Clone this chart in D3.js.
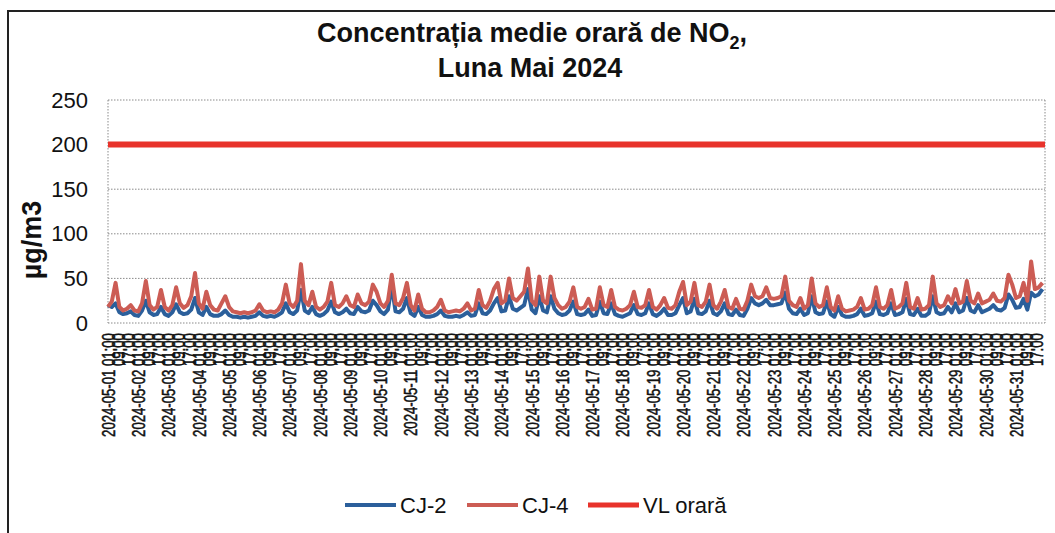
<!DOCTYPE html>
<html>
<head>
<meta charset="utf-8">
<script src="https://cdn.jsdelivr.net/npm/d3@7"></script>
<style>
  body { margin: 0; background: #fff; }
  text { font-family: "Liberation Sans", Arial, sans-serif; fill: #111; }
</style>
</head>
<body>
<div id="chart"></div>
<script>
// readings every 3 hours (01,04,07,10,13,16,19,22) for each day of May 2024
const cj4Values = [
  18, 24, 45, 18, 14, 16, 20, 14,
  13, 22, 47, 20, 15, 18, 37, 18,
  14, 20, 40, 22, 17, 20, 30, 56,
  22, 16, 35, 20, 15, 14, 22, 30,
  18, 13, 12, 11, 12, 11, 12, 14,
  21, 14, 12, 13, 12, 15, 22, 43,
  22, 18, 25, 66, 25, 20, 35, 18,
  15, 18, 24, 45, 20, 18, 22, 30,
  20, 18, 32, 22, 20, 24, 43, 35,
  22, 18, 25, 54, 22, 20, 28, 45,
  20, 14, 32, 16, 12, 12, 14, 18,
  26, 14, 12, 13, 14, 13, 16, 22,
  14, 16, 37, 20, 17, 25, 38, 45,
  22, 25, 50, 28, 25, 30, 35, 61,
  25, 20, 52, 25, 22, 52, 28, 20,
  16, 18, 24, 40, 18, 16, 18, 27,
  15, 16, 40, 20, 18, 37, 18, 15,
  14, 16, 20, 35, 18, 17, 20, 37,
  18, 15, 20, 28, 17, 16, 20, 35,
  46, 20, 24, 45, 20, 18, 24, 43,
  20, 16, 24, 37, 18, 16, 27, 16,
  15, 25, 43, 30, 28, 30, 40, 28,
  27, 28, 30, 52, 25, 20, 18, 28,
  16, 20, 50, 22, 18, 20, 40, 18,
  14, 30, 16, 13, 14, 15, 18, 28,
  15, 16, 20, 40, 18, 16, 20, 37,
  16, 18, 22, 45, 18, 16, 28, 15,
  16, 20, 52, 22, 18, 20, 30, 22,
  38, 22, 24, 47, 25, 22, 33, 22,
  24, 26, 33, 25, 24, 28, 54, 43,
  28, 30, 45, 25, 69, 38, 40, 45
];

const cj2Values = [
  20, 18, 22, 12, 10, 11, 13, 9,
  8, 14, 25, 12, 9, 10, 18, 10,
  8, 12, 21, 12, 10, 11, 15, 28,
  12, 9, 18, 10, 8, 8, 10, 14,
  9, 7, 7, 6, 7, 6, 7, 8,
  12, 8, 7, 8, 7, 9, 12, 22,
  12, 10, 14, 37, 14, 11, 18, 10,
  8, 10, 14, 24, 12, 10, 12, 16,
  11, 10, 18, 13, 12, 14, 25, 20,
  13, 10, 15, 42, 13, 12, 16, 28,
  11, 8, 18, 9, 7, 7, 8, 10,
  14, 8, 7, 7, 8, 7, 9, 12,
  8, 9, 22, 11, 10, 14, 22, 28,
  13, 14, 30, 16, 14, 17, 20, 38,
  15, 11, 30, 14, 12, 30, 16, 11,
  9, 10, 14, 24, 10, 9, 10, 15,
  8, 9, 24, 11, 10, 22, 10, 8,
  7, 9, 11, 20, 10, 9, 11, 22,
  10, 8, 11, 16, 9, 9, 11, 20,
  28, 11, 13, 27, 11, 10, 13, 25,
  11, 9, 13, 22, 10, 9, 15, 9,
  8, 16, 28, 22, 20, 22, 26, 20,
  20, 21, 22, 34, 16, 11, 10, 16,
  9, 11, 30, 12, 10, 11, 24, 10,
  7, 18, 9, 7, 7, 8, 10, 16,
  8, 9, 11, 24, 10, 9, 11, 22,
  9, 10, 12, 27, 10, 9, 16, 8,
  8, 11, 30, 12, 10, 11, 18, 12,
  22, 12, 14, 28, 14, 12, 20, 12,
  14, 16, 20, 15, 14, 17, 32, 26,
  17, 18, 27, 15, 34, 30, 32, 38
];

const limitValue = 200;
const yTicks = [0, 50, 100, 150, 200, 250];
const tickHours = [1, 9, 17];
const seriesNames = ["CJ-2", "CJ-4", "VL orară"];
const seriesColors = ["#2b5f9b", "#cc5c54", "#e8332b"];

const width = 1055;
const height = 533;
const margin = { top: 100, left: 108 };
const plotRight = 1045;
const plotBottom = 323;

const start = new Date(2024, 4, 1, 1);
const end = new Date(2024, 5, 1, 0);
const times = cj4Values.map((d, i) => d3.timeHour.offset(start, i * 3));

const svg = d3
  .select("#chart")
  .append("svg")
  .attr("width", width)
  .attr("height", height);

svg.append("rect").attr("width", width).attr("height", height).attr("fill", "#fff");

// outer frame
svg
  .append("rect")
  .attr("x", 8)
  .attr("y", 11)
  .attr("width", 1060)
  .attr("height", 540)
  .attr("fill", "none")
  .attr("stroke", "#222")
  .attr("stroke-width", 2);

const xScale = d3.scaleTime().domain([start, end]).range([margin.left, plotRight]);
const yScale = d3.scaleLinear().domain([0, 250]).range([plotBottom, margin.top]);

// gridlines
svg
  .append("g")
  .selectAll("line")
  .data(yTicks)
  .enter()
  .append("line")
  .attr("x1", margin.left)
  .attr("x2", plotRight)
  .attr("y1", (d) => yScale(d))
  .attr("y2", (d) => yScale(d))
  .attr("stroke", "#8a8a8a")
  .attr("stroke-width", 1)
  .attr("stroke-dasharray", "1.5,1.5");

[margin.left, plotRight].forEach((x) => {
  svg
    .append("line")
    .attr("x1", x)
    .attr("x2", x)
    .attr("y1", margin.top)
    .attr("y2", plotBottom)
    .attr("stroke", "#8a8a8a")
    .attr("stroke-dasharray", "1.5,1.5");
});

// y axis
const yAxis = d3.axisLeft(yScale).tickValues(yTicks).tickSize(0).tickPadding(20);
const yG = svg.append("g").attr("transform", `translate(${margin.left}, 0)`).call(yAxis);
yG.select(".domain").remove();
yG.selectAll("text")
  .style("font-size", "22px")
  .style("font-family", "Liberation Sans, Arial, sans-serif")
  .attr("fill", "#111");

svg
  .append("text")
  .attr("transform", "translate(41, 240) rotate(-90)")
  .style("text-anchor", "middle")
  .style("font-size", "27px")
  .style("font-weight", "bold")
  .text("µg/m3");

// x axis
const tickDates = d3.timeHour
  .range(start, end)
  .filter((d) => tickHours.includes(d.getHours()));
const xAxis = d3
  .axisBottom(xScale)
  .tickValues(tickDates)
  .tickSize(0)
  .tickFormat((d) =>
    d.getHours() === 1 ? d3.timeFormat("%Y-%m-%d %H:%M")(d) : d3.timeFormat("%H:%M")(d)
  );
const xG = svg.append("g").attr("transform", `translate(0, ${plotBottom})`).call(xAxis);
xG.select(".domain").remove();
xG.selectAll("text")
  .style("font-size", "18px")
  .style("font-family", "Liberation Sans, Arial, sans-serif")
  .attr("fill", "#111")
  .attr("stroke", "#111")
  .attr("stroke-width", 0.5)
  .style("text-anchor", "end")
  .attr("transform", "rotate(-90) scale(0.73,1)")
  .attr("x", -14)
  .attr("y", 0)
  .attr("dy", "0.35em");

// limit line
svg
  .append("line")
  .attr("x1", margin.left)
  .attr("x2", plotRight)
  .attr("y1", yScale(limitValue))
  .attr("y2", yScale(limitValue))
  .attr("stroke", seriesColors[2])
  .attr("stroke-width", 6);

const line = d3
  .line()
  .x((d, i) => xScale(times[i]))
  .y((d) => yScale(d));

svg
  .append("path")
  .datum(cj2Values)
  .attr("fill", "none")
  .attr("stroke", seriesColors[0])
  .attr("stroke-width", 4)
  .attr("stroke-linejoin", "round")
  .attr("d", line);

svg
  .append("path")
  .datum(cj4Values)
  .attr("fill", "none")
  .attr("stroke", seriesColors[1])
  .attr("stroke-width", 4)
  .attr("stroke-linejoin", "round")
  .attr("d", line);

// title
const title = svg
  .append("text")
  .attr("x", 532)
  .attr("y", 42)
  .style("text-anchor", "middle")
  .style("font-size", "27px")
  .style("font-weight", "bold");
title.append("tspan").text("Concentrația medie orară de NO");
title.append("tspan").attr("dy", 7).style("font-size", "18px").text("2");
title.append("tspan").attr("dy", -7).text(",");

svg
  .append("text")
  .attr("x", 530)
  .attr("y", 77)
  .style("text-anchor", "middle")
  .style("font-size", "27px")
  .style("font-weight", "bold")
  .text("Luna Mai 2024");

// legend
const legendX = [345, 467, 588];
const legend = svg.append("g");
seriesNames.forEach((name, i) => {
  legend
    .append("line")
    .attr("x1", legendX[i])
    .attr("x2", legendX[i] + 51)
    .attr("y1", 505)
    .attr("y2", 505)
    .attr("stroke", seriesColors[i])
    .attr("stroke-width", i === 2 ? 5 : 4);
  legend
    .append("text")
    .attr("x", legendX[i] + 55)
    .attr("y", 513)
    .style("font-size", "22px")
    .text(name);
});
</script>
</body>
</html>
